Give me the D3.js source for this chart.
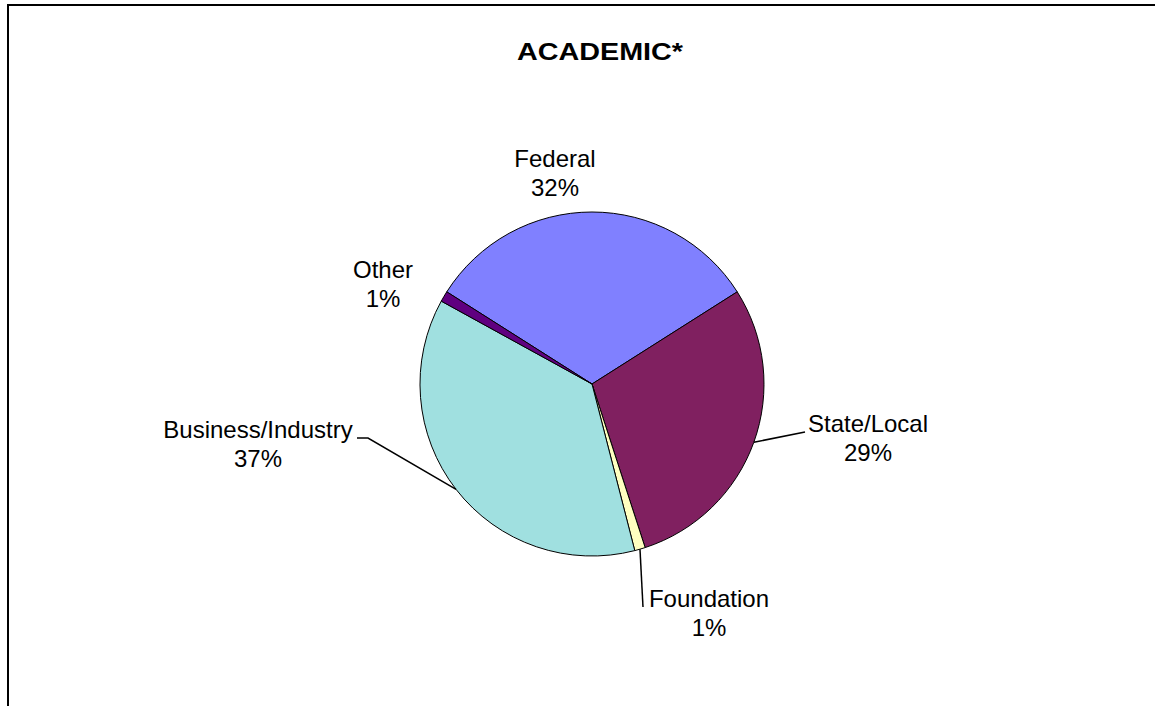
<!DOCTYPE html>
<html>
<head>
<meta charset="utf-8">
<script src="https://cdn.jsdelivr.net/npm/d3@7"></script>
<style>
  body { margin: 0; background: #fff; }
  text { font-family: "Liberation Sans", Arial, sans-serif; }
</style>
</head>
<body>
<div id="chart"></div>
<script>
// Data
const categories = ["Federal", "State/Local", "Foundation", "Business/Industry", "Other"];
const shares = [32, 29, 1, 37, 1];
const sliceColors = ["#8080FF", "#802060", "#FFFFC0", "#A0E0E0", "#600080"];

// label layout (text anchor points, plus where the leader line bends)
const labelLayout = [
    { x: 555, y: 167, leader: false },
    { x: 868, y: 432, leader: true, elbow: [805, 432] },
    { x: 709, y: 607, leader: true, elbow: [643, 607] },
    { x: 258, y: 438, leader: true, elbow: [368, 438], tail: [357, 438] },
    { x: 383, y: 278, leader: false }
];

const width = 1155;
const height = 706;
const cx = 592;
const cy = 384;
const radius = 172;

const svg = d3.select("#chart")
    .append("svg")
    .attr("width", width)
    .attr("height", height);

// chart frame (runs off the right and bottom edges)
svg.append("rect")
    .attr("x", 8)
    .attr("y", 5)
    .attr("width", width + 20)
    .attr("height", height + 20)
    .attr("fill", "none")
    .attr("stroke", "#000")
    .attr("stroke-width", 2);

svg.append("text")
    .attr("x", 600)
    .attr("y", 60)
    .attr("text-anchor", "middle")
    .attr("textLength", 166)
    .attr("lengthAdjust", "spacingAndGlyphs")
    .style("font-size", "23px")
    .style("font-weight", "bold")
    .text("ACADEMIC*");

const data = categories.map((c, i) => ({ name: c, value: shares[i], color: sliceColors[i] }));

// Federal slice centred at 12 o'clock
const offset = -Math.PI * shares[0] / 100;
const pie = d3.pie()
    .sort(null)
    .value((d) => d.value)
    .startAngle(offset)
    .endAngle(offset + 2 * Math.PI);

const arc = d3.arc().innerRadius(0).outerRadius(radius);

const g = svg.append("g").attr("transform", `translate(${cx},${cy})`);

const arcs = pie(data);

g.selectAll("path")
    .data(arcs)
    .join("path")
    .attr("d", arc)
    .attr("fill", (d) => d.data.color)
    .attr("stroke", "#000")
    .attr("stroke-width", 1);

// leader lines from slice edge to label
arcs.forEach((a, i) => {
    const lay = labelLayout[i];
    if (!lay.leader) return;
    const mid = (a.startAngle + a.endAngle) / 2;
    const ex = cx + Math.sin(mid) * radius;
    const ey = cy - Math.cos(mid) * radius;
    const pts = [[ex, ey], lay.elbow];
    if (lay.tail) pts.push(lay.tail);
    svg.append("path")
        .attr("d", d3.line()(pts))
        .attr("fill", "none")
        .attr("stroke", "#000")
        .attr("stroke-width", 1.5);
});

// labels
arcs.forEach((a, i) => {
    const lay = labelLayout[i];
    const t = svg.append("text")
        .attr("x", lay.x)
        .attr("y", lay.y)
        .attr("text-anchor", "middle")
        .style("font-size", "24px");
    t.append("tspan").attr("x", lay.x).attr("dy", 0).text(a.data.name);
    t.append("tspan").attr("x", lay.x).attr("dy", 29).text(a.data.value + "%");
});
</script>
</body>
</html>
